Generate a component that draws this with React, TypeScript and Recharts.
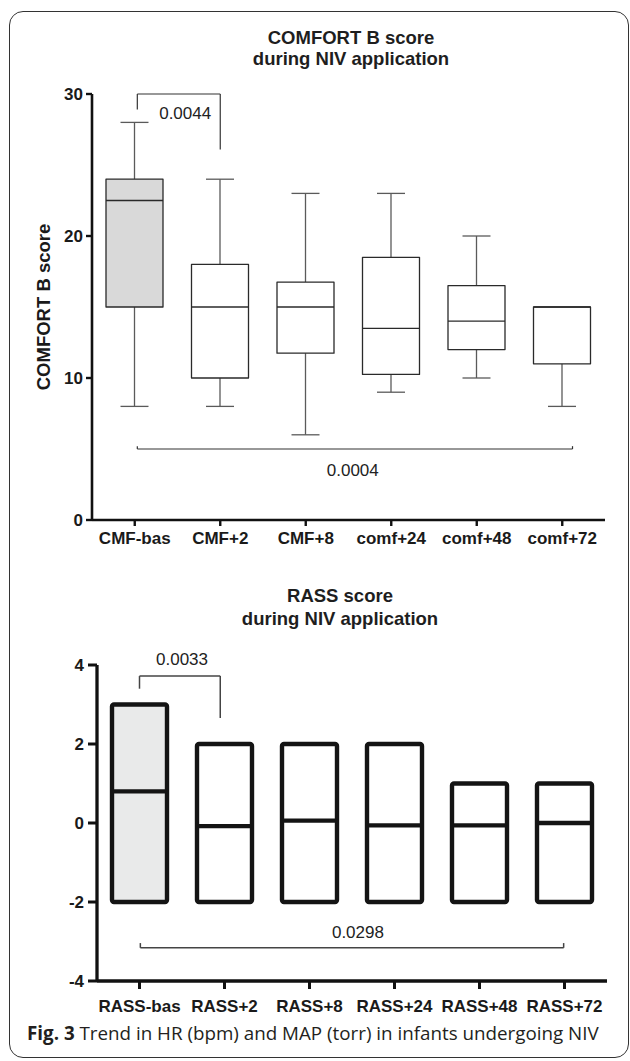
import React from 'react';
import { ComposedChart, Bar, XAxis, YAxis, ReferenceLine, ReferenceDot } from 'recharts';

// COMFORT B score, five-number summaries per time point
const comfortLabels = ['CMF-bas', 'CMF+2', 'CMF+8', 'comf+24', 'comf+48', 'comf+72'];
const comfortMin = [8, 8, 6, 9, 10, 8];
const comfortQ1 = [15, 10, 11.75, 10.25, 12, 11];
const comfortMedian = [22.5, 15, 15, 13.5, 14, 15];
const comfortQ3 = [24, 18, 16.75, 18.5, 16.5, 15];
const comfortMax = [28, 24, 23, 23, 20, 15];
const comfortTicks = [0, 10, 20, 30];

// RASS score
const rassLabels = ['RASS-bas', 'RASS+2', 'RASS+8', 'RASS+24', 'RASS+48', 'RASS+72'];
const rassMin = [-2, -2, -2, -2, -2, -2];
const rassQ1 = [-2, -2, -2, -2, -2, -2];
const rassMedian = [0.8, -0.08, 0.06, -0.06, -0.06, 0];
const rassQ3 = [3, 2, 2, 2, 1, 1];
const rassMax = [3, 2, 2, 2, 1, 1];
const rassTicks = [-4, -2, 0, 2, 4];

// p-value brackets (x in category index units, y in score units)
const comfortBrackets = [
  { from: 0.03, to: 1, level: 30, leftEnd: 28.9, rightEnd: 26.1, p: '0.0044', px: 0.59, py: 28.66 },
  { from: 0.03, to: 5.12, level: 5, leftEnd: 5.2, rightEnd: 5.2, p: '0.0004', px: 2.55, py: 3.52 },
];
const rassBrackets = [
  { from: 0, to: 0.95, level: 3.72, leftEnd: 3.4, rightEnd: 2.66, p: '0.0033', px: 0.5, py: 4.15 },
  { from: 0.01, to: 4.99, level: -3.16, leftEnd: -3.04, rightEnd: -3.04, p: '0.0298', px: 2.57, py: -2.76 },
];

type Row = { name: string; pos: number; min: number; q1: number; median: number; q3: number; max: number };

const toRows = (labels: string[], mn: number[], q1: number[], md: number[], q3: number[], mx: number[]): Row[] =>
  labels.map((name, i) => ({ name, pos: i, min: mn[i], q1: q1[i], median: md[i], q3: q3[i], max: mx[i] }));

const comfortData = toRows(comfortLabels, comfortMin, comfortQ1, comfortMedian, comfortQ3, comfortMax);
const rassData = toRows(rassLabels, rassMin, rassQ1, rassMedian, rassQ3, rassMax);

const FONT = '"Liberation Sans", Arial, Helvetica, sans-serif';

// draws the whole box from the min..max range bar that recharts lays out
const BoxShape = (props: any) => {
  const { x, y, width, height, payload, heavy, baseName } = props;
  const { min, q1, median, q3, max } = payload as Row;
  const py = (v: number) => y + (height * (max - v)) / (max - min);
  const cx = x + width / 2;
  const cap = 14;
  const isBase = payload.name === baseName;
  const boxStroke = heavy ? '#141414' : '#2a2a2a';
  const whiskerStroke = heavy ? '#141414' : '#5a5a5a';
  const sw = heavy ? 4.4 : 1.3;
  const fill = isBase ? (heavy ? '#e9eaea' : '#d9d9d9') : '#ffffff';
  return (
    <g>
      {max > q3 && (
        <g stroke={whiskerStroke} strokeWidth={sw}>
          <line x1={cx} x2={cx} y1={py(max)} y2={py(q3)} />
          <line x1={cx - cap} x2={cx + cap} y1={py(max)} y2={py(max)} />
        </g>
      )}
      {min < q1 && (
        <g stroke={whiskerStroke} strokeWidth={sw}>
          <line x1={cx} x2={cx} y1={py(q1)} y2={py(min)} />
          <line x1={cx - cap} x2={cx + cap} y1={py(min)} y2={py(min)} />
        </g>
      )}
      <rect
        x={x}
        y={py(q3)}
        width={width}
        height={py(q1) - py(q3)}
        fill={fill}
        stroke={boxStroke}
        strokeWidth={sw}
        rx={heavy ? 2 : 0}
        strokeLinejoin="round"
      />
      <line x1={x} x2={x + width} y1={py(median)} y2={py(median)} stroke={boxStroke} strokeWidth={sw} />
    </g>
  );
};

const tickStyle = { fontFamily: FONT, fontWeight: 700, fontSize: 17, fill: '#1a1a1a' };

const renderBrackets = (list: typeof comfortBrackets, stroke: string, sw: number) =>
  list.flatMap((b, i) => [
    <ReferenceLine key={`h${i}`} xAxisId="n" segment={[{ x: b.from, y: b.level }, { x: b.to, y: b.level }]} stroke={stroke} strokeWidth={sw} ifOverflow="visible" />,
    <ReferenceLine key={`l${i}`} xAxisId="n" segment={[{ x: b.from, y: b.level }, { x: b.from, y: b.leftEnd }]} stroke={stroke} strokeWidth={sw} ifOverflow="visible" />,
    <ReferenceLine key={`r${i}`} xAxisId="n" segment={[{ x: b.to, y: b.level }, { x: b.to, y: b.rightEnd }]} stroke={stroke} strokeWidth={sw} ifOverflow="visible" />,
    <ReferenceDot
      key={`t${i}`}
      xAxisId="n"
      x={b.px}
      y={b.py}
      r={0}
      fill="none"
      stroke="none"
      ifOverflow="visible"
      label={{ value: b.p, position: 'center', fontFamily: FONT, fontSize: 17, fill: '#222' }}
    />,
  ]);

const titleStyle: React.CSSProperties = {
  position: 'absolute',
  textAlign: 'center',
  fontFamily: FONT,
  fontWeight: 700,
  fontSize: 18.5,
  color: '#1e1e1e',
  whiteSpace: 'nowrap',
};

export default function App() {
  return (
    <div style={{ position: 'absolute', left: 0, top: 0, width: 630, height: 1061, background: '#fff', overflow: 'hidden' }}>
      <div
        style={{
          position: 'absolute',
          left: 9,
          top: 11,
          width: 618,
          height: 1045,
          border: '1.2px solid #333',
          borderRadius: 14,
        }}
      />

      <div style={{ ...titleStyle, left: 151, width: 400, top: 26.5, lineHeight: '21px' }}>
        COMFORT B score
        <br />
        during NIV application
      </div>

      <div style={{ position: 'absolute', left: 0, top: 0 }}>
        <ComposedChart width={630} height={560} data={comfortData} margin={{ top: 94, right: 25, bottom: 10, left: 32 }}>
          <XAxis
            dataKey="name"
            interval={0}
            height={30}
            tickSize={6}
            tickMargin={6}
            tick={tickStyle}
            axisLine={{ stroke: '#111', strokeWidth: 2.6 }}
            tickLine={{ stroke: '#111', strokeWidth: 2.4 }}
          />
          <XAxis xAxisId="n" dataKey="pos" type="number" domain={[-0.5, 5.5]} allowDataOverflow hide />
          <YAxis
            domain={[0, 30]}
            ticks={comfortTicks}
            width={60}
            tickSize={6}
            tickMargin={3}
            tick={tickStyle}
            axisLine={{ stroke: '#111', strokeWidth: 2.6 }}
            tickLine={{ stroke: '#111', strokeWidth: 2.4 }}
            label={{
              value: 'COMFORT B score',
              angle: -90,
              position: 'insideLeft',
              offset: 11,
              style: { textAnchor: 'middle', fontFamily: FONT, fontWeight: 700, fontSize: 18.5, fill: '#1a1a1a' },
            }}
          />
          <Bar
            dataKey={(d: Row) => [d.min, d.max]}
            barSize={57}
            isAnimationActive={false}
            shape={(p: any) => <BoxShape {...p} baseName={comfortLabels[0]} />}
          />
          {renderBrackets(comfortBrackets, '#333', 1.2)}
        </ComposedChart>
      </div>

      <div style={{ ...titleStyle, left: 140, width: 400, top: 583.5, lineHeight: '23px' }}>
        RASS score
        <br />
        during NIV application
      </div>

      <div style={{ position: 'absolute', left: 0, top: 560 }}>
        <ComposedChart width={630} height={460} data={rassData} margin={{ top: 105, right: 23, bottom: 9, left: 37 }}>
          <XAxis
            dataKey="name"
            interval={0}
            height={30}
            tickSize={8}
            tickMargin={11}
            tick={tickStyle}
            axisLine={{ stroke: '#111', strokeWidth: 3.3 }}
            tickLine={{ stroke: '#111', strokeWidth: 3 }}
          />
          <XAxis xAxisId="n" dataKey="pos" type="number" domain={[-0.5, 5.5]} allowDataOverflow hide />
          <YAxis
            domain={[-4, 4]}
            ticks={rassTicks}
            width={60}
            tickSize={9}
            tickMargin={4}
            tick={tickStyle}
            axisLine={{ stroke: '#111', strokeWidth: 3.3 }}
            tickLine={{ stroke: '#111', strokeWidth: 3 }}
          />
          <Bar
            dataKey={(d: Row) => [d.min, d.max]}
            barSize={55}
            isAnimationActive={false}
            shape={(p: any) => <BoxShape {...p} heavy baseName={rassLabels[0]} />}
          />
          {renderBrackets(rassBrackets, '#444', 1.5)}
        </ComposedChart>
      </div>

      <div
        style={{
          position: 'absolute',
          left: 27,
          top: 1023,
          fontFamily: '"Open Sans", sans-serif',
          fontSize: 18.8,
          lineHeight: '20px',
          color: '#231f20',
          whiteSpace: 'nowrap',
        }}
      >
        <b>Fig. 3</b> Trend in HR (bpm) and MAP (torr) in infants undergoing NIV
      </div>
    </div>
  );
}
